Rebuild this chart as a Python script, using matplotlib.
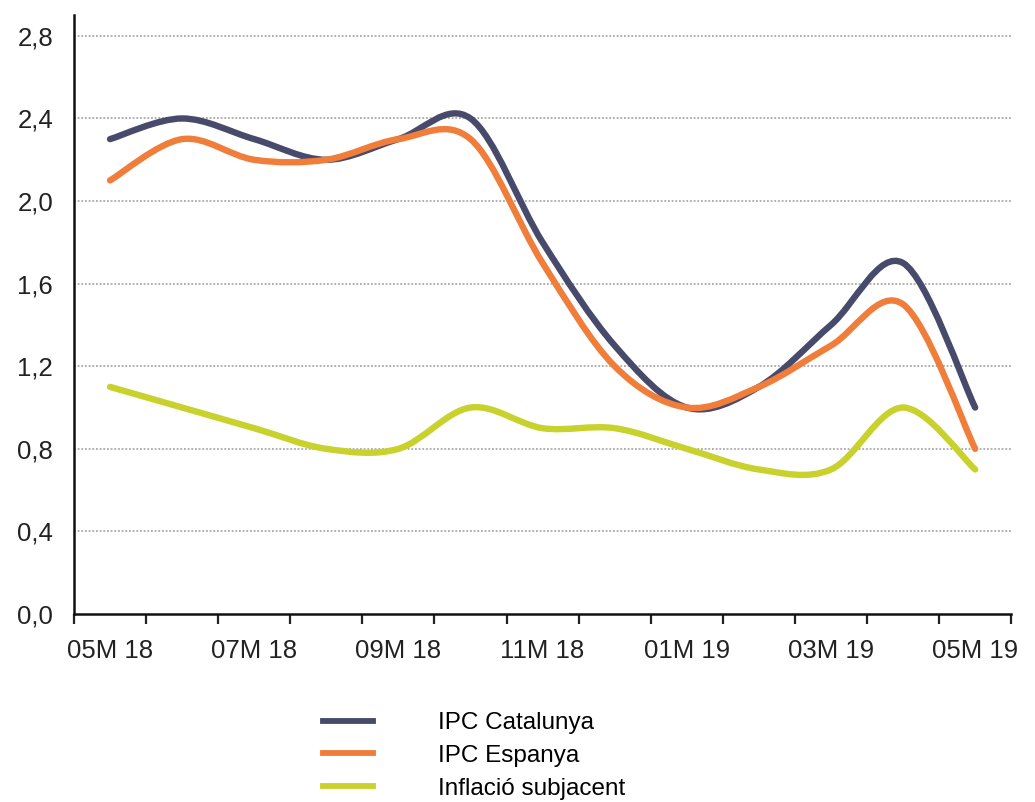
import matplotlib
matplotlib.use("Agg")
import matplotlib.pyplot as plt
from matplotlib.path import Path
from matplotlib.patches import PathPatch
from matplotlib.lines import Line2D

months = ["05M 18", "06M 18", "07M 18", "08M 18", "09M 18", "10M 18", "11M 18",
          "12M 18", "01M 19", "02M 19", "03M 19", "04M 19", "05M 19"]
ipc_cat = [2.3, 2.4, 2.3, 2.2, 2.3, 2.4, 1.8, 1.3, 1.0, 1.1, 1.4, 1.7, 1.0]
ipc_esp = [2.1, 2.3, 2.2, 2.2, 2.3, 2.3, 1.7, 1.2, 1.0, 1.1, 1.3, 1.5, 0.8]
core = [1.1, 1.0, 0.9, 0.8, 0.8, 1.0, 0.9, 0.9, 0.8, 0.7, 0.7, 1.0, 0.7]
labels = ["IPC Catalunya", "IPC Espanya", "Inflació subjacent"]
colors = ["#474a6b", "#f07d3a", "#c9d12c"]

plt.rcParams['font.family'] = ['Liberation Sans', 'DejaVu Sans']


def smooth_path(xs, ys):
    # cubic bezier through every point (catmull-rom style control points)
    pts = list(zip(xs, ys))
    verts = [pts[0]]
    codes = [Path.MOVETO]
    n = len(pts)
    for i in range(n - 1):
        p0 = pts[i - 1] if i > 0 else pts[i]
        p1 = pts[i]
        p2 = pts[i + 1]
        p3 = pts[i + 2] if i + 2 < n else pts[i + 1]
        c1 = (p1[0] + (p2[0] - p0[0]) / 6, p1[1] + (p2[1] - p0[1]) / 6)
        c2 = (p2[0] - (p3[0] - p1[0]) / 6, p2[1] - (p3[1] - p1[1]) / 6)
        verts += [c1, c2, p2]
        codes += [Path.CURVE4] * 3
    return Path(verts, codes)


fig = plt.figure(figsize=(10.35, 8.02), dpi=100)
ax = fig.add_axes([0.0715, 0.2344, 0.9055, 0.7466])

x = list(range(len(months)))
for series, col in zip([ipc_cat, ipc_esp, core], colors):
    ax.add_patch(PathPatch(smooth_path(x, series), fill=False, edgecolor=col,
                           linewidth=4.6, capstyle="round", joinstyle="round", zorder=3))

ax.set_xlim(-0.5, len(months) - 0.5)
ax.set_ylim(0, 2.9)

yt = [0.0, 0.4, 0.8, 1.2, 1.6, 2.0, 2.4, 2.8]
ax.set_yticks(yt)
ax.set_yticklabels([f"{v:.1f}".replace(".", ",") for v in yt])
ax.tick_params(axis="y", length=0, pad=15, labelsize=18.5, labelcolor="#222222")
for v in yt[1:]:
    ax.axhline(v, color="#9a9a9a", linestyle=(0, (1.2, 1.2)), linewidth=1.1, zorder=1)

ax.set_xticks([i - 0.5 for i in range(len(months) + 1)])
ax.set_xticklabels([])
ax.set_xticks(x[::2], minor=True)
ax.set_xticklabels(months[::2], minor=True)
ax.tick_params(axis="x", which="major", length=7, width=1.6, direction="out", color="#222222")
ax.tick_params(axis="x", which="minor", length=0, pad=18, labelsize=18.5, labelcolor="#222222")

for s in ["top", "right"]:
    ax.spines[s].set_visible(False)
for s in ["left", "bottom"]:
    ax.spines[s].set_linewidth(1.8)
    ax.spines[s].set_color("#111111")

handles = [Line2D([], [], color=c, linewidth=4.2) for c in colors]
fig.legend(handles, labels, loc="upper left", bbox_to_anchor=(0.312, 0.112),
           frameon=False, fontsize=17.5, handlelength=2.06, handletextpad=2.67,
           labelspacing=0.44, borderpad=0, borderaxespad=0)

fig.savefig("out.png", dpi=100)
